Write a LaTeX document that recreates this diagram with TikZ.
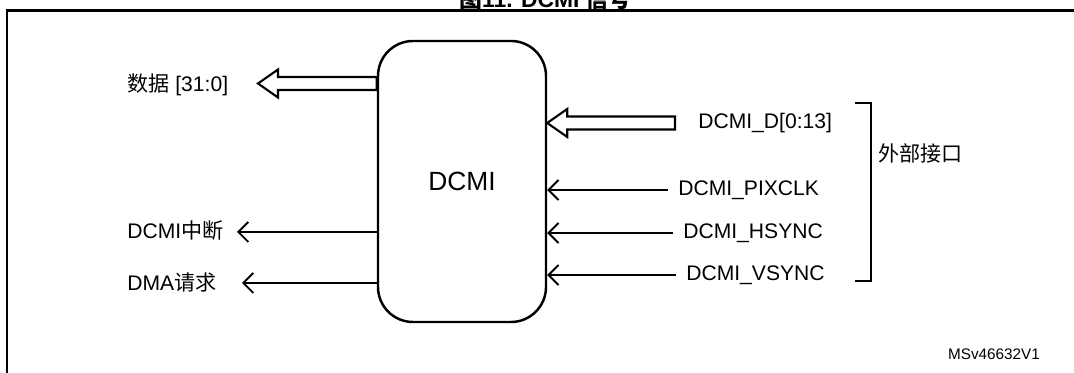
\documentclass[tikz,border=0pt]{standalone}
\usepackage{fontspec}
\setmainfont{Liberation Sans}
\newfontfamily\cjk{Noto Sans CJK SC}
\usepackage{tikz}
\usetikzlibrary{arrows.meta,positioning,calc}

% hollow bus arrow, tip on the left: \busarrow{tip}{tail}
\newcommand{\busarrow}[2]{%
  \draw[bus] (#1) -- ([xshift=0.4cm,yshift=0.28cm]#1) -- ([xshift=0.4cm,yshift=0.13cm]#1)
    -- ([yshift=0.13cm]#2) -- ([yshift=-0.13cm]#2) -- ([xshift=0.4cm,yshift=-0.13cm]#1)
    -- ([xshift=0.4cm,yshift=-0.28cm]#1) -- cycle;}

\begin{document}
\begin{tikzpicture}[
    core/.style={rectangle, draw, line width=1.4pt, rounded corners=0.7cm, minimum width=3.36cm, minimum height=5.62cm, align=center, font=\fontsize{15}{18}\selectfont},
    sigtext/.style={inner xsep=0.2cm, inner ysep=0pt, anchor=west, font=\fontsize{12}{14}\selectfont},
    sig/.style={-{Straight Barb[length=0.2cm,width=0.4cm]}, line width=1.1pt},
    bus/.style={line width=1.2pt, line join=miter},
    brk/.style={line width=0.9pt},
    frame/.style={line width=1.7pt},
]
\useasboundingbox (0,0) rectangle (21.48,-7.46);

% === FRAME AND TITLE ===
\draw[frame] (0.14,-7.9) |- (21.9,-0.22);
\node[anchor=base, font=\fontsize{13}{15}\selectfont\bfseries] (title) at (10.91,-0.16) {{\cjk 图}11. DCMI {\cjk 信号}};

% === DCMI BLOCK ===
\node[core] (dcmi) at (9.24,-3.63) {DCMI};

% === LEFT SIDE (OUTPUTS) ===
\node[sigtext] (data) at (2.34,-1.70) {{\cjk 数据} [31:0]};
\node[sigtext] (irq) at (2.34,-4.62) {DCMI{\cjk 中断}};
\node[sigtext] (dma) at (2.34,-5.66) {DMA{\cjk 请求}};

\coordinate (datatip) at (5.16,-1.67);
\coordinate (irqtip) at (4.74,-4.64);
\coordinate (dmatip) at (4.84,-5.66);

\busarrow{datatip}{datatip -| dcmi.west}
\draw[sig] (irqtip -| dcmi.west) -- (irqtip);
\draw[sig] (dmatip -| dcmi.west) -- (dmatip);

% === RIGHT SIDE (INPUTS) ===
\node[sigtext] (dpins) at (13.76,-2.46) {DCMI\_D[0:13]};
\node[sigtext] (pixclk) at (13.36,-3.80) {DCMI\_PIXCLK};
\node[sigtext] (hsync) at (13.46,-4.66) {DCMI\_HSYNC};
\node[sigtext] (vsync) at (13.52,-5.50) {DCMI\_VSYNC};

\coordinate (dtail) at (13.5,-2.46);
\coordinate (dtip) at (dtail -| dcmi.east);
\busarrow{dtip}{dtail}
\draw[sig] (pixclk.west) -- (pixclk.west -| dcmi.east);
\draw[sig] (hsync.west) -- (hsync.west -| dcmi.east);
\draw[sig] (vsync.west) -- (vsync.west -| dcmi.east);

% === EXTERNAL INTERFACE BRACKET ===
\coordinate (brtop) at (17.1,-2.06);
\coordinate (brbot) at (17.1,-5.62);
\draw[brk] (brtop) -- ++(0.32,0) |- (brbot);
\node[sigtext] (ext) at (17.36,-3.06) {\cjk 外部接口};

% === FIGURE ID ===
\node[font=\fontsize{8.7}{10}\selectfont] (figid) at (19.88,-7.08) {MSv46632V1};

\end{tikzpicture}
\end{document}
